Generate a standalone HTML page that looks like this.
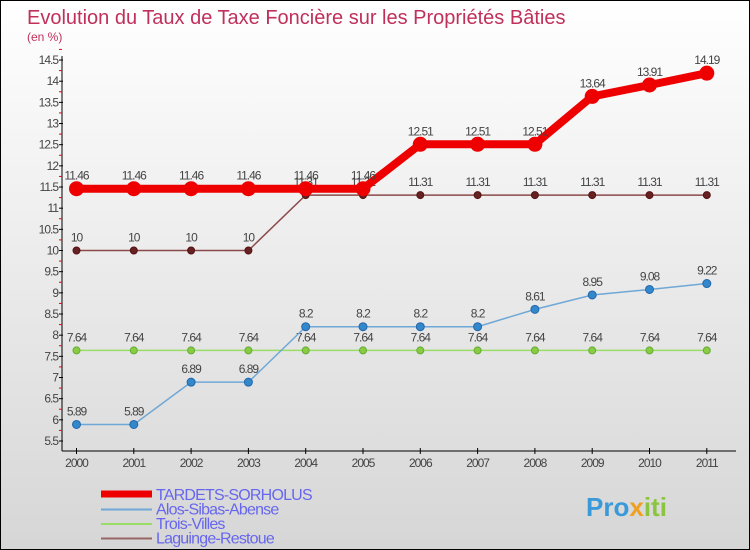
<!DOCTYPE html>
<html><head><meta charset="utf-8"><style>
body{margin:0;}
#wrap{width:748px;height:548px;border:1px solid #000;background:linear-gradient(#fff,#d6d6d6);position:relative;overflow:hidden;font-family:"Liberation Sans",sans-serif;}
svg{position:absolute;left:0;top:0;}
</style></head><body>
<div id="wrap">
<svg id="chart" width="750" height="550">
<text x="26" y="23" font-size="20" fill="#c0305a">Evolution du Taux de Taxe Foncière sur les Propriétés Bâties</text>
<text x="26" y="40" font-size="12" fill="#c0305a">(en %)</text>
<g id="axes"></g><g id="series"></g><g id="legend"></g>
<text x="585" y="515" font-size="26" font-weight="bold" fill="#3a9ad9">Pro<tspan fill="#f0a020">x</tspan><tspan fill="#8bc53f">iti</tspan></text>
</svg></div>
<script>
const years=[2000,2001,2002,2003,2004,2005,2006,2007,2008,2009,2010,2011];
const yTicks=[5.5,6,6.5,7,7.5,8,8.5,9,9.5,10,10.5,11,11.5,12,12.5,13,13.5,14,14.5];
const tardets=[11.46,11.46,11.46,11.46,11.46,11.46,12.51,12.51,12.51,13.64,13.91,14.19];
const alos=[5.89,5.89,6.89,6.89,8.2,8.2,8.2,8.2,8.61,8.95,9.08,9.22];
const trois=[7.64,7.64,7.64,7.64,7.64,7.64,7.64,7.64,7.64,7.64,7.64,7.64];
const laguinge=[10,10,10,10,11.31,11.31,11.31,11.31,11.31,11.31,11.31,11.31];
const names=["TARDETS-SORHOLUS","Alos-Sibas-Abense","Trois-Villes","Laguinge-Restoue"];
const NS="http://www.w3.org/2000/svg";
const xS=i=>75.5+i*57.3;
const yS=v=>440-(v-5.5)*42.33;
function mk(tag,attrs,parent,txt){const e=document.createElementNS(NS,tag);for(const k in attrs)e.setAttribute(k,attrs[k]);if(txt!==undefined)e.textContent=txt;parent.appendChild(e);return e;}
const axes=document.getElementById('axes');
let ya=mk('line',{x1:61,y1:55,x2:61,y2:450,stroke:'#000'},axes);

let xa=mk('line',{x1:61,y1:450,x2:735,y2:450,stroke:'#000'},axes);

yTicks.forEach(t=>{const y=yS(t);
 mk('line',{x1:58,y1:y,x2:62,y2:y,stroke:'#000'},axes);
 mk('line',{x1:58,y1:y-10.6,x2:61,y2:y-10.6,stroke:'#e00'},axes);
 const l=mk('text',{x:57,y:y+4,'font-size':12,fill:'#444','text-anchor':'end','letter-spacing':'-1'},axes,String(t));
 });
years.forEach((yr,i)=>{const x=xS(i);
 mk('line',{x1:x,y1:447,x2:x,y2:453,stroke:'#000'},axes);
 const l=mk('text',{x:x,y:466,'font-size':12,fill:'#444','text-anchor':'middle','letter-spacing':'-1'},axes,String(yr));
 });
const ser=document.getElementById('series');
function draw(vals,color,w,r,dot,stroke,name){
 const g=mk('g',{},ser);
 const p=mk('polyline',{points:vals.map((v,i)=>xS(i)+','+yS(v)).join(' '),fill:'none',stroke:color,'stroke-width':w},g);
 
 vals.forEach((v,i)=>{const c=mk('circle',{cx:xS(i),cy:yS(v),r:r,fill:dot,stroke:stroke},g);
  
  const t=mk('text',{x:xS(i),y:yS(v)-9,'font-size':12,fill:'#444','text-anchor':'middle','letter-spacing':'-1'},g,String(v));
  });
}
draw(trois,'#99dd66',1.5,3.5,'#88cc44','#66aa33','trois-villes');
draw(alos,'#6fa8d6',1.5,4,'#3388cc','#2266aa','alos-sibas-abense');
draw(laguinge,'#8b4a4a',1.5,3.5,'#662222','#551111','laguinge-restoue');
draw(tardets,'#ee0000',8,7,'#ee0000','#ee0000','tardets-sorholus');
const lg=document.getElementById('legend');
const lc=['#ee0000','#6fa8d6','#99dd66','#996666'],lw=[7,2,2,2];
names.forEach((n,i)=>{const y=493+i*14.5;
 const g=mk('g',{},lg);
 mk('line',{x1:100,y1:y+(i==0?0:1),x2:151,y2:y+(i==0?0:1),stroke:lc[i],'stroke-width':lw[i]},g);
 mk('text',{x:155,y:y+6,'font-size':16,fill:'#6666ee','letter-spacing':'-0.8'},g,n);});
</script>
</body></html>
